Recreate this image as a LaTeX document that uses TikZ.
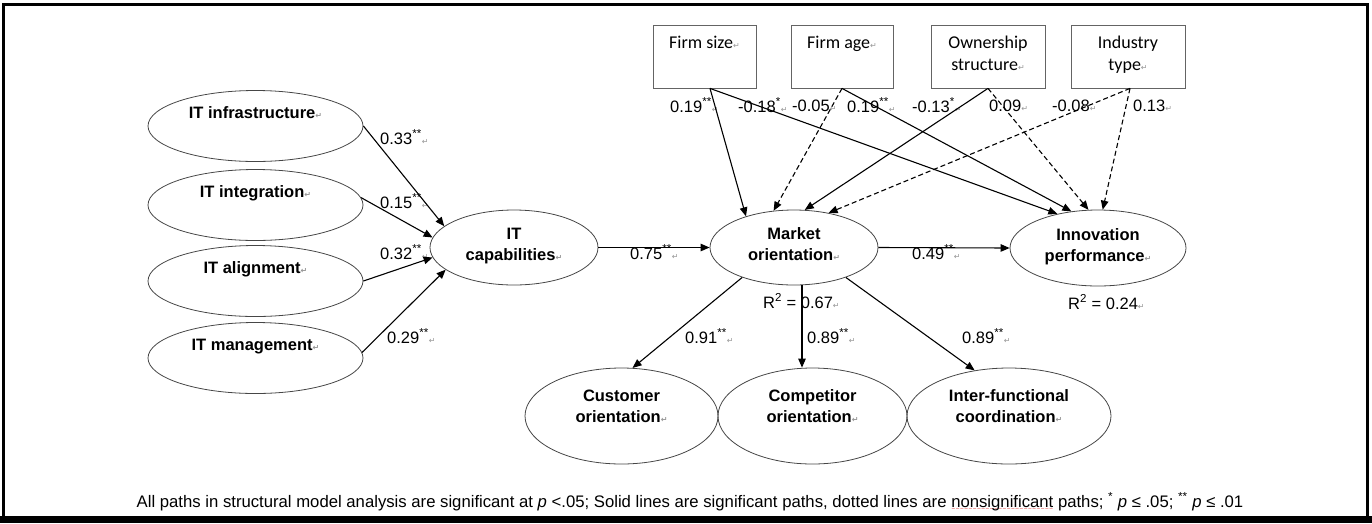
\documentclass[tikz,border=0pt]{standalone}
\usepackage{fontspec}
\setmainfont{Liberation Sans}
\newfontfamily\boxfont{Carlito}
\newfontfamily\symfont{DejaVu Sans}
\usetikzlibrary{shapes.geometric, arrows.meta}
\definecolor{ovalgray}{RGB}{70, 70, 70}
\definecolor{boxgray}{RGB}{100, 100, 100}
\definecolor{markgray}{RGB}{150, 150, 150}
\definecolor{spellred}{RGB}{220, 40, 40}
\newcommand{\retmark}{{\symfont\fontsize{8}{8}\selectfont\textcolor{markgray}{↵}}}
\newcommand{\redwave}[1]{\setbox0\hbox{#1}\rlap{\textcolor{spellred}{\raisebox{-3.5pt}{\hbox to \wd0{\symfont\fontsize{5}{5}\selectfont\xleaders\hbox{∼}\hfil}}}}#1}

\begin{document}
\begin{tikzpicture}[x=1pt, y=-1pt,
    latent/.style={ellipse, draw=ovalgray, line width=0.8pt, inner sep=0pt, align=center,
        font=\bfseries\fontsize{16.5}{21}\selectfont,
        execute at begin node=\strut, execute at end node=\strut},
    ctrlbox/.style={rectangle, draw=boxgray, line width=0.8pt, inner sep=0pt, align=center,
        minimum height=63pt, font=\boxfont\fontsize{18}{22}\selectfont,
        execute at begin node=\strut, execute at end node=\strut},
    coef/.style={anchor=west, inner sep=0pt, font=\fontsize{16.5}{19.5}\selectfont,
        execute at begin node=\strut},
    sigpath/.style={-{Triangle[length=9pt, width=7.5pt]}, line width=1.1pt},
    nspath/.style={sigpath, dash pattern=on 5pt off 3pt}]
    \useasboundingbox (0,0) rectangle (1372,523);

    % Frame
    \fill (0,516) rectangle (1372,523);
    \draw[line width=3pt] (3.5,517) -- (3.5,4.5) -- (1367.5,4.5) -- (1367.5,517);

    % IT dimensions
    \node[latent, minimum width=215pt, minimum height=71pt] (itinfra) at (255.5,126) {IT infrastructure\retmark\\};
    \node[latent, minimum width=215pt, minimum height=71pt] (itinteg) at (255.5,205) {IT integration\retmark\\};
    \node[latent, minimum width=215pt, minimum height=71pt] (italign) at (255.5,281) {IT alignment\retmark\\};
    \node[latent, minimum width=215pt, minimum height=71pt] (itmgmt) at (255.5,358) {IT management\retmark\\};

    % Main constructs
    \node[latent, minimum width=168pt, minimum height=75pt] (itcap) at (514,247.5) {IT\\capabilities\retmark};
    \node[latent, minimum width=168pt, minimum height=75pt] (mktor) at (794,247.5) {Market\\orientation\retmark};
    \node[latent, minimum width=176pt, minimum height=76pt] (innov) at (1098,248) {Innovation\\performance\retmark};

    % Market orientation dimensions
    \node[latent, minimum width=193pt, minimum height=96pt] (custor) at (621.5,416) {Customer\\orientation\retmark\\[-8pt]};
    \node[latent, minimum width=189pt, minimum height=96pt] (compor) at (812.5,416) {Competitor\\orientation\retmark\\[-8pt]};
    \node[latent, minimum width=204pt, minimum height=96pt] (interf) at (1009,416) {Inter-functional\\coordination\retmark\\[-8pt]};

    % Control variables
    \node[ctrlbox, minimum width=103pt] (fsize) at (704.5,56.5) {Firm size\retmark\\};
    \node[ctrlbox, minimum width=102pt] (fage) at (842,56.5) {Firm age\retmark\\};
    \node[ctrlbox, minimum width=114pt] (owner) at (988,56.5) {Ownership\\structure\retmark};
    \node[ctrlbox, minimum width=114pt] (indtype) at (1128,56.5) {Industry\\type\retmark};

    % Coefficients
    \node[coef] (c-infra) at (380,140) {0.33\textsuperscript{**}\retmark};
    \node[coef] (c-integ) at (380,204) {0.15\textsuperscript{**}\retmark};
    \node[coef] (c-align) at (380,255) {0.32\textsuperscript{**}\retmark};
    \node[coef] (c-mgmt) at (387,339) {0.29\textsuperscript{**}\retmark};
    \node[coef] (c-cap) at (630,255) {0.75\textsuperscript{**}\retmark};
    \node[coef] (c-inn) at (912,255) {0.49\textsuperscript{**}\retmark};
    \node[coef] (r2-mkt) at (763,304) {R\textsuperscript{2} = 0.67\retmark};
    \node[coef] (r2-inn) at (1068,305) {R\textsuperscript{2} = 0.24\retmark};
    \node[coef] (c-cust) at (685,339) {0.91\textsuperscript{**}\retmark};
    \node[coef] (c-comp) at (807,339) {0.89\textsuperscript{**}\retmark};
    \node[coef] (c-intf) at (962,339) {0.89\textsuperscript{**}\retmark};
    \node[coef] (c-sz1) at (670,108) {0.19\textsuperscript{**}\retmark};
    \node[coef] (c-sz2) at (738,108) {-0.18\textsuperscript{*}\retmark};
    \node[coef] (c-ag1) at (792,108) {-0.05\retmark};
    \node[coef] (c-ag2) at (847,108) {0.19\textsuperscript{**}\retmark};
    \node[coef] (c-ow1) at (912,108) {-0.13\textsuperscript{*}\retmark};
    \node[coef] (c-ow2) at (989,108) {0.09\retmark};
    \node[coef] (c-in1) at (1052,108) {-0.08\retmark};
    \node[coef] (c-in2) at (1133,108) {0.13\retmark};

    % Paths into IT capabilities
    \draw[sigpath] (itinfra.east) -- (itcap.163);
    \draw[sigpath] (itinteg.4) -- (itcap.173);
    \draw[sigpath] (italign.east) -- (itcap.187);
    \draw[sigpath] (itmgmt.3) -- (itcap.198);

    % Structural paths
    \draw[sigpath] (itcap.east) -- (mktor.west);
    \draw[sigpath] (mktor.east) -- (innov.west);
    \draw[sigpath] (mktor.210) -- (custor.77);
    \draw[sigpath] ([xshift=8pt]mktor.south) -- ([xshift=-10.5pt]compor.north);
    \draw[sigpath] (mktor.330) -- (interf.127);

    % Control paths
    \draw[sigpath] ([xshift=5.5pt]fsize.south) -- (mktor.147);
    \draw[sigpath] ([xshift=5.5pt]fsize.south) -- (innov.140);
    \draw[nspath] (fage.south) -- (mktor.119);
    \draw[sigpath] (fage.south) -- (innov.126);
    \draw[sigpath] (owner.south) -- (mktor.74);
    \draw[nspath] (owner.south) -- (innov.104);
    \draw[nspath] ([xshift=2pt]indtype.south) -- (mktor.45);
    \draw[nspath] ([xshift=2pt]indtype.south) -- (innov.83);

    % Note
    \node[inner sep=0pt, font=\fontsize{16.7}{19.5}\selectfont, execute at begin node=\strut] (note) at (690,503)
        {All paths in structural model analysis are significant at \textit{p} <.05; Solid lines are significant paths, dotted lines are \redwave{nonsignificant} paths; \textsuperscript{*} \textit{p} ≤ .05; \textsuperscript{**} \textit{p} ≤ .01};
\end{tikzpicture}
\end{document}
